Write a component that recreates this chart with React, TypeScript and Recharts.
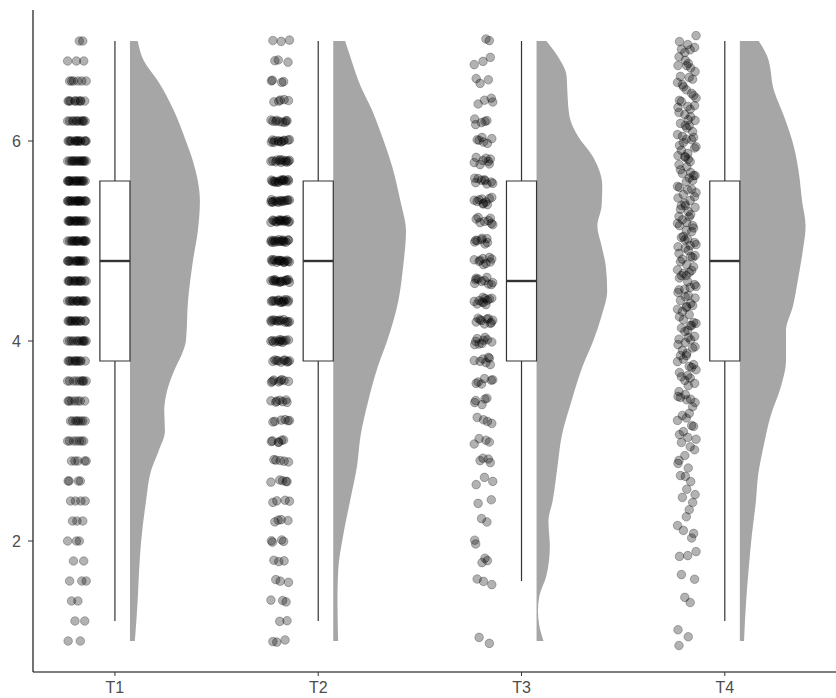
import {
  ComposedChart,
  XAxis,
  YAxis,
  Scatter,
  Area,
  ReferenceArea,
  ReferenceLine,
} from "recharts";

const categories = ["T1", "T2", "T3", "T4"];

// raw value levels (0.2 steps for T1-T3, 0.1 steps for T4)
const levels02 = [
  1.0, 1.2, 1.4, 1.6, 1.8, 2.0, 2.2, 2.4, 2.6, 2.8, 3.0, 3.2, 3.4, 3.6, 3.8, 4.0,
  4.2, 4.4, 4.6, 4.8, 5.0, 5.2, 5.4, 5.6, 5.8, 6.0, 6.2, 6.4, 6.6, 6.8, 7.0,
];
const levels01 = [
  1.0, 1.1, 1.2, 1.3, 1.4, 1.5, 1.6, 1.7, 1.8, 1.9, 2.0, 2.1, 2.2, 2.3, 2.4, 2.5,
  2.6, 2.7, 2.8, 2.9, 3.0, 3.1, 3.2, 3.3, 3.4, 3.5, 3.6, 3.7, 3.8, 3.9, 4.0, 4.1,
  4.2, 4.3, 4.4, 4.5, 4.6, 4.7, 4.8, 4.9, 5.0, 5.1, 5.2, 5.3, 5.4, 5.5, 5.6, 5.7,
  5.8, 5.9, 6.0, 6.1, 6.2, 6.3, 6.4, 6.5, 6.6, 6.7, 6.8, 6.9, 7.0,
];

// how many observations sit at each level
const t1Counts = [
  2, 2, 2, 3, 2, 3, 3, 4, 4, 5, 7, 8, 7, 9, 11, 12, 13, 14, 14, 15, 16, 17, 18,
  17, 15, 14, 11, 9, 6, 3, 2,
];
const t2Counts = [
  3, 2, 3, 3, 3, 4, 4, 4, 5, 5, 6, 6, 7, 8, 10, 12, 13, 14, 15, 16, 16, 16, 15,
  15, 13, 12, 9, 5, 4, 3, 3,
];
const t3Counts = [
  2, 0, 0, 3, 3, 2, 2, 2, 3, 4, 4, 4, 5, 6, 7, 9, 10, 11, 10, 9, 8, 8, 10, 9, 8, 6,
  5, 4, 3, 3, 2,
];
const t4Counts = [
  2, 1, 0, 0, 2, 0, 1, 1, 1, 2, 1, 2, 2, 1, 2, 2, 2, 2, 2, 3, 3, 3, 3, 3, 4, 4,
  4, 4, 5, 5, 5, 5, 5, 5, 5, 5, 5, 6, 5, 5, 6, 5, 5, 6, 5, 5, 5, 5, 5, 5, 5, 5,
  5, 5, 4, 4, 4, 4, 4, 4, 3,
];

// box stats
const whiskerLow = [1.2, 1.2, 1.6, 1.2];
const q1 = [3.8, 3.8, 3.8, 3.8];
const median = [4.8, 4.8, 4.6, 4.8];
const q3 = [5.6, 5.6, 5.6, 5.6];
const whiskerHigh = [7.0, 7.0, 7.0, 7.0];

// half-violin outlines: value and relative density
const t1ViolinY = [1.0, 1.4, 1.7, 2.0, 2.4, 2.7, 2.9, 3.1, 3.3, 3.5, 3.7, 3.9, 4.0, 4.4, 4.8, 5.1, 5.4, 5.8, 6.0, 6.3, 6.6, 6.8, 7.0];
const t1Density = [0.07, 0.11, 0.13, 0.16, 0.23, 0.3, 0.41, 0.5, 0.49, 0.53, 0.63, 0.76, 0.8, 0.83, 0.9, 0.97, 1.0, 0.9, 0.8, 0.63, 0.4, 0.2, 0.11];
const t2ViolinY = [1.0, 1.4, 1.7, 2.05, 2.4, 2.75, 3.05, 3.4, 3.75, 4.0, 4.4, 4.75, 5.1, 5.4, 5.75, 6.1, 6.3, 6.55, 6.85, 7.0];
const t2Density = [0.07, 0.06, 0.07, 0.14, 0.24, 0.34, 0.39, 0.5, 0.64, 0.77, 0.93, 1.0, 1.04, 0.96, 0.84, 0.67, 0.56, 0.39, 0.24, 0.17];
const t3ViolinY = [1.0, 1.15, 1.3, 1.45, 1.65, 1.95, 2.2, 2.4, 2.75, 3.05, 3.4, 3.75, 4.0, 4.25, 4.5, 4.75, 4.95, 5.15, 5.35, 5.55, 5.85, 6.05, 6.25, 6.5, 6.65, 6.85, 7.0];
const t3Density = [0.1, 0.04, 0.02, 0.04, 0.14, 0.19, 0.17, 0.23, 0.3, 0.36, 0.5, 0.66, 0.81, 0.93, 1.01, 0.99, 0.93, 0.87, 0.93, 0.94, 0.8, 0.59, 0.47, 0.44, 0.43, 0.3, 0.14];
const t4ViolinY = [1.0, 1.4, 1.75, 2.05, 2.4, 2.65, 2.95, 3.25, 3.55, 3.8, 4.1, 4.35, 4.65, 4.9, 5.15, 5.4, 5.7, 5.95, 6.25, 6.5, 6.85, 7.0];
const t4Density = [0.06, 0.09, 0.13, 0.17, 0.23, 0.26, 0.34, 0.44, 0.59, 0.66, 0.66, 0.76, 0.84, 0.9, 0.94, 0.89, 0.84, 0.77, 0.63, 0.49, 0.39, 0.27];

// fixed jitter pattern (in -1..1)
const xJitter = [-0.9, 0.35, -0.2, 0.8, -0.55, 0.1, 0.95, -0.75, 0.5, -0.35, 0.7, -0.05, -0.95, 0.25, 0.6, -0.45, 0.0, 0.85, -0.65, 0.4, -0.15, 0.15, -0.8];
const yJitter = [0.3, -0.6, 0.9, -0.1, -0.9, 0.5, 0.1, -0.4, 0.7, -0.75, 0.2, -0.25, 0.6];

const groups = [
  { levels: levels02, counts: t1Counts, yAmp: 0, vy: t1ViolinY, vd: t1Density },
  { levels: levels02, counts: t2Counts, yAmp: 0.015, vy: t2ViolinY, vd: t2Density },
  { levels: levels02, counts: t3Counts, yAmp: 0.04, vy: t3ViolinY, vd: t3Density },
  { levels: levels01, counts: t4Counts, yAmp: 0.06, vy: t4ViolinY, vd: t4Density },
];

const BOX_HALF = 0.074;
const POINT_OFFSET = -0.187;
const POINT_SPREAD = 0.048;
const VIOLIN_WIDTH = 0.344;

function pointsFor(gi: number) {
  const g = groups[gi];
  const pos = gi + 1;
  const out: { x: number; y: number }[] = [];
  let n = gi * 7;
  g.levels.forEach((lv, i) => {
    for (let k = 0; k < g.counts[i]; k++) {
      out.push({
        x: pos + POINT_OFFSET + xJitter[n % xJitter.length] * POINT_SPREAD,
        y: lv + yJitter[n % yJitter.length] * g.yAmp,
      });
      n++;
    }
  });
  return out;
}

function violinFor(gi: number) {
  const g = groups[gi];
  const base = gi + 1 + BOX_HALF;
  return g.vy.map((y, i) => ({ y, range: [base, base + g.vd[i] * VIOLIN_WIDTH] }));
}

const Dot = (p: any) => (
  <circle
    cx={p.cx}
    cy={p.cy}
    r={4.3}
    fill="#000"
    fillOpacity={0.3}
    stroke="#000"
    strokeOpacity={0.33}
    strokeWidth={0.8}
  />
);

const FONT = "Liberation Sans, Arial, sans-serif";

const XTick = (p: any) => (
  <text x={p.x} y={p.y} dy="0.71em" textAnchor="middle" fill="#4d4d4d" fontSize={16} fontFamily={FONT}>
    {categories[p.payload.value - 1]}
  </text>
);

const YTick = (p: any) => (
  <text x={p.x} y={p.y} dy="0.36em" textAnchor="end" fill="#4d4d4d" fontSize={16} fontFamily={FONT}>
    {p.payload.value}
  </text>
);

export default function App() {
  return (
    <div style={{ position: "absolute", left: 0, top: 0, background: "#fff" }}>
      <ComposedChart
        width={836}
        height={698}
        layout="vertical"
        margin={{ top: 10, right: 0, bottom: 0, left: 0 }}
      >
        <XAxis
          type="number"
          dataKey="x"
          domain={[0.597, 4.547]}
          allowDataOverflow
          ticks={[1, 2, 3, 4]}
          interval={0}
          height={26}
          tickSize={4}
          tickMargin={6}
          tick={XTick}
          tickLine={{ stroke: "#333" }}
          axisLine={{ stroke: "#000", strokeWidth: 1.1 }}
        />
        <YAxis
          type="number"
          dataKey="y"
          reversed
          domain={[0.69, 7.31]}
          allowDataOverflow
          ticks={[2, 4, 6]}
          interval={0}
          width={33}
          tickSize={5}
          tickMargin={7}
          tick={YTick}
          tickLine={{ stroke: "#333" }}
          axisLine={{ stroke: "#000", strokeWidth: 1.1 }}
        />
        {categories.map((c, gi) => (
          <Area
            key={"v" + c}
            data={violinFor(gi)}
            dataKey="range"
            type="monotone"
            stroke="none"
            fill="#a6a6a6"
            fillOpacity={1}
            isAnimationActive={false}
            dot={false}
            activeDot={false}
          />
        ))}
        {categories.map((c, gi) => (
          <Scatter
            key={"p" + c}
            data={pointsFor(gi)}
            shape={Dot}
            isAnimationActive={false}
          />
        ))}
        {categories.map((c, gi) => (
          <ReferenceLine
            key={"wl" + c}
            segment={[
              { x: gi + 1, y: whiskerLow[gi] },
              { x: gi + 1, y: q1[gi] },
            ]}
            stroke="#333"
            strokeWidth={1.2}
          />
        ))}
        {categories.map((c, gi) => (
          <ReferenceLine
            key={"wh" + c}
            segment={[
              { x: gi + 1, y: q3[gi] },
              { x: gi + 1, y: whiskerHigh[gi] },
            ]}
            stroke="#333"
            strokeWidth={1.2}
          />
        ))}
        {categories.map((c, gi) => (
          <ReferenceArea
            key={"b" + c}
            x1={gi + 1 - BOX_HALF}
            x2={gi + 1 + BOX_HALF}
            y1={q1[gi]}
            y2={q3[gi]}
            fill="#fff"
            fillOpacity={1}
            stroke="#333"
            strokeWidth={1.2}
          />
        ))}
        {categories.map((c, gi) => (
          <ReferenceLine
            key={"m" + c}
            segment={[
              { x: gi + 1 - BOX_HALF, y: median[gi] },
              { x: gi + 1 + BOX_HALF, y: median[gi] },
            ]}
            stroke="#333"
            strokeWidth={2.4}
          />
        ))}
      </ComposedChart>
    </div>
  );
}
